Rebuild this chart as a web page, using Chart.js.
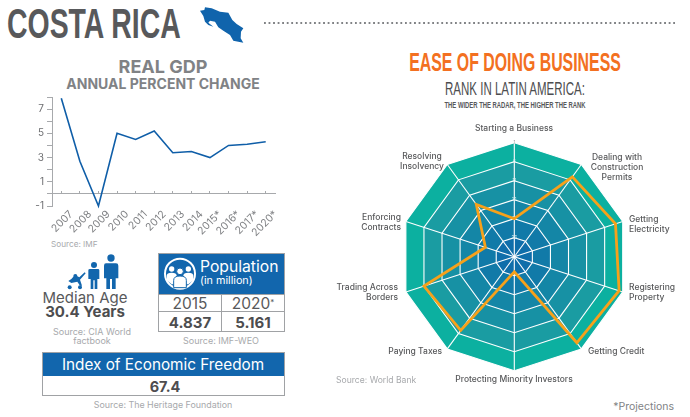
<!DOCTYPE html>
<html><head><meta charset="utf-8">
<script src="https://cdn.jsdelivr.net/npm/chart.js@4"></script>
<style>
html,body{margin:0;padding:0;background:#fff;width:690px;height:417px;overflow:hidden;font-family:Inter,"Open Sans",sans-serif}
.t{position:absolute;white-space:nowrap;line-height:1}
.c{transform:translate(-50%,-50%)}
.narrow{font-family:"Liberation Sans",sans-serif}
.src{color:#a7a9ac;font-size:9px}
.box{position:absolute;box-sizing:border-box;background:#fff;border:1px solid #a0a2a5}
.blue{position:absolute;background:#1266ad}
canvas{display:block}
</style></head><body>
<div class="t narrow" style="left:7px;top:3px;font-size:42px;font-weight:700;color:#58595b;transform-origin:0 0;transform:scaleX(.677)" id="ttl">COSTA RICA</div>
<svg style="position:absolute;left:0;top:0" width="345" height="50" viewBox="0 0 1035 150"><path fill="#1064ac" d="M600 32L613 30L615 22L635 25L660 35L685 38L697 60L710 72L730 85L723 95L722 115L730 128L715 125L700 122L690 105L670 92L655 82L645 65L630 62L625 68L640 80L625 75L615 65L610 48Z"/></svg>
<div style="position:absolute;left:264px;top:22px;width:411px;height:2px;background-image:radial-gradient(circle at 1px 1px,#808285 1px,transparent 1.2px);background-size:4.55px 2px"></div>

<div class="t c" style="left:163px;top:67px;font-size:18px;font-weight:700;color:#808285">REAL GDP</div>
<div class="t c" style="left:163px;top:84px;font-size:14px;font-weight:700;color:#808285">ANNUAL PERCENT CHANGE</div>
<div style="position:absolute;left:0;top:88px;width:285px;height:150px"><canvas id="gdp" width="285" height="150"></canvas></div>
<div class="t src" style="left:51px;top:240px;font-size:8.2px">Source: IMF</div>

<svg style="position:absolute;left:0;top:245px" width="345" height="172" viewBox="0 0 1035 516">
<g fill="#1266ad">
<circle cx="333" cy="39" r="11"/><path d="M318 55H348Q355 55 355 62V100H347V132H336V102H330V132H319V100H312V62Q312 55 318 55Z"/>
<circle cx="282" cy="60" r="9"/><path d="M270 72H294Q298 72 298 76V102H292V132H284V106H280V132H272V102H265V76Q265 72 270 72Z"/>
<path d="M225 90L238 97L254 82L257 85L240 104L246 122L240 122L232 110L214 114L205 108L214 102Z"/><circle cx="209" cy="127" r="6"/><circle cx="240" cy="127" r="6"/><circle cx="226" cy="93" r="6"/>
</g></svg>
<div class="t c" style="left:85px;top:297px;font-size:15px;color:#58595b">Median Age</div>
<div class="t c" style="left:85px;top:311px;font-size:15px;font-weight:700;color:#4d4d4f">30.4 Years</div>
<div class="t src c" style="left:92px;top:331px">Source: CIA World</div>
<div class="t src c" style="left:92px;top:340px">factbook</div>

<div class="box" style="left:158px;top:253px;width:127px;height:79px"></div>
<div class="blue" style="left:159px;top:254px;width:125px;height:40px"></div>
<div style="position:absolute;left:159px;top:311px;width:125px;height:1px;background:#a0a2a5"></div>
<div style="position:absolute;left:159px;top:294px;width:125px;height:1px;background:#a0a2a5"></div>
<div style="position:absolute;left:221px;top:294px;width:1px;height:38px;background:#a0a2a5"></div>
<svg style="position:absolute;left:0;top:245px" width="345" height="172" viewBox="0 0 1035 516">
<circle cx="540" cy="86" r="45" fill="#1266ad" stroke="#fff" stroke-width="6"/>
<g fill="#fff"><circle cx="515" cy="72" r="8"/><circle cx="565" cy="72" r="8"/>
<path d="M500 106V92Q500 83 515 83Q530 83 530 92V118H515Z"/><path d="M580 106V92Q580 83 565 83Q550 83 550 92V118H565Z"/>
<g stroke="#1266ad" stroke-width="3"><circle cx="540" cy="79" r="10"/><path d="M521 128V106Q521 93 540 93Q559 93 559 106V128Z"/></g></g></svg>
<div class="t" style="left:200px;top:259px;font-size:15.7px;color:#fff">Population</div>
<div class="t" style="left:200px;top:276px;font-size:10.8px;color:#fff">(in million)</div>
<div class="t c" style="left:190px;top:304px;font-size:15.5px;color:#58595b">2015</div>
<div class="t c" style="left:253px;top:304px;font-size:15.5px;color:#58595b">2020<span style="font-size:8px;vertical-align:4px">*</span></div>
<div class="t c" style="left:190px;top:322px;font-size:15px;font-weight:700;color:#4d4d4f">4.837</div>
<div class="t c" style="left:253px;top:322px;font-size:15px;font-weight:700;color:#4d4d4f">5.161</div>
<div class="t src c" style="left:221px;top:340px">Source: IMF-WEO</div>

<div class="box" style="left:42px;top:352px;width:243px;height:44px"></div>
<div class="blue" style="left:43px;top:353px;width:241px;height:23px"></div>
<div class="t c" style="left:163px;top:365px;font-size:15.3px;color:#fff">Index of Economic Freedom</div>
<div class="t c" style="left:165px;top:387px;font-size:14.5px;font-weight:700;color:#4d4d4f">67.4</div>
<div class="t src c" style="left:163px;top:405px;font-size:8.9px">Source: The Heritage Foundation</div>

<div class="t narrow" style="left:515px;top:62px;font-size:25px;font-weight:700;color:#f37021;transform:translate(-50%,-50%) scaleX(.635)">EASE OF DOING BUSINESS</div>
<div class="t narrow" style="left:515px;top:89px;font-size:18px;color:#4d4d4f;transform:translate(-50%,-50%) scaleX(.64)">RANK IN LATIN AMERICA:</div>
<div class="t narrow" style="left:515px;top:105px;font-size:9.5px;font-weight:700;color:#58595b;transform:translate(-50%,-50%) scaleX(.62)">THE WIDER THE RADAR, THE HIGHER THE RANK</div>

<div style="position:absolute;left:330px;top:118px;width:360px;height:272px"><canvas id="radar" width="360" height="272"></canvas></div>
<div class="t src" style="left:336px;top:376px;font-size:8.6px">Source: World Bank</div>
<div class="t" style="right:16px;top:402px;font-size:10.5px;color:#808285">*Projections</div>

<script>
const gdpYears = ["2007","2008","2009","2010","2011","2012","2013","2014","2015*","2016*","2017*","2020*"];
const gdpValues = [7.9,2.7,-1.0,5.0,4.5,5.2,3.4,3.5,3.0,4.0,4.1,4.3];
const radarLabels = ["Starting a Business",["Dealing with","Construction","Permits"],["Getting","Electricity"],["Registering","Property"],"Getting Credit","Protecting Minority Investors","Paying Taxes",["Trading Across","Borders"],["Enforcing","Contracts"],["Resolving","Insolvency"]];
const radarRanks = [21,5,3,2,3,27,7,6,23,14];
const ringRanks = [1,6,11,16,21,26];
const ringColors = ["#0cb0a0","#1a9ca2","#1791a4","#1486a6","#117aa8","#0f6eaa"];
Chart.defaults.animation = false;
Chart.defaults.responsive = false;
const axisGrey = "#a7a9ac";
new Chart(document.getElementById("gdp"),{type:"line",
 data:{labels:gdpYears,datasets:[{data:gdpValues,borderColor:"#0f5ea8",borderWidth:1.6,pointRadius:0,tension:0,xAxisID:"x",yAxisID:"y",clip:false}]},
 options:{plugins:{legend:{display:false},tooltip:{enabled:false}},
  layout:{padding:{top:6,right:10,left:0,bottom:0}},
  scales:{
   x:{type:"category",labels:gdpYears,offset:true,position:{y:0},border:{color:axisGrey,width:1},
      grid:{drawOnChartArea:false,drawTicks:true,tickLength:-3,color:axisGrey},ticks:{display:false},afterFit(s){s.height=0}},
   x2:{type:"category",labels:gdpYears,offset:true,position:"bottom",border:{display:false},grid:{display:false,drawTicks:false},
      ticks:{autoSkip:false,minRotation:45,maxRotation:45,labelOffset:10,padding:2,color:"#808285",font:{family:"Inter",size:10.5}},afterFit(s){s.height=32}},
   y:{min:-1,max:8,position:"left",border:{color:axisGrey},grid:{drawOnChartArea:false,tickLength:5,color:axisGrey},
      ticks:{stepSize:1,autoSkip:false,padding:3,color:"#6d6e71",font:{family:"Inter",size:10},callback:v=>Math.abs(v%2)===1?String(v):""},afterFit(s){s.width=52}}
  }}});
const ringsPlugin={id:"rings",beforeDraw(c){const s=c.scales.r,x=c.ctx,n=radarLabels.length;
  ringRanks.forEach((rk,k)=>{x.beginPath();for(let i=0;i<n;i++){const p=s.getPointPositionForValue(i,rk);i?x.lineTo(p.x,p.y):x.moveTo(p.x,p.y);}x.closePath();x.fillStyle=ringColors[k];x.fill();});}};
// label placement in canvas pixels: [x, top of first line, alignment]
const labelPlacement=[[184,5,"center"],[287,34,"center"],[299,96,"left"],[299,164,"left"],[258,228,"left"],[184,256,"center"],[112,228,"right"],[68,164,"right"],[71,94,"right"],[92,33,"center"]];
new Chart(document.getElementById("radar"),{type:"radar",plugins:[ringsPlugin],
 data:{labels:radarLabels,datasets:[{data:radarRanks,borderColor:"#f7a11a",borderWidth:2.8,pointRadius:0,fill:false,tension:0}]},
 options:{plugins:{legend:{display:false},tooltip:{enabled:false}},layout:{padding:0},
  scales:{r:{reverse:true,min:1,max:31,beginAtZero:false,
    angleLines:{color:"#fff",lineWidth:1.1},grid:{color:"#fff",lineWidth:1.1},
    pointLabels:{color:"#58595b",font:{family:"Inter",size:8.5,weight:"500",lineHeight:1.2},padding:4},
    ticks:{stepSize:5,showLabelBackdrop:false,font:{size:4.5,family:"Inter"},color:c=>c.tick.value===1?"#999":"#d5eef0",callback:v=>v===31?"":String(v)},
    afterFit(s){s.xCenter=184.3;s.yCenter=138.7;s.drawingArea=114;
      (s._pointLabelItems||[]).forEach((it,i)=>{const p=labelPlacement[i];it.x=p[0];it.y=p[1];it.textAlign=p[2];it.visible=true;});}
  }}}});
</script>
</body></html>
